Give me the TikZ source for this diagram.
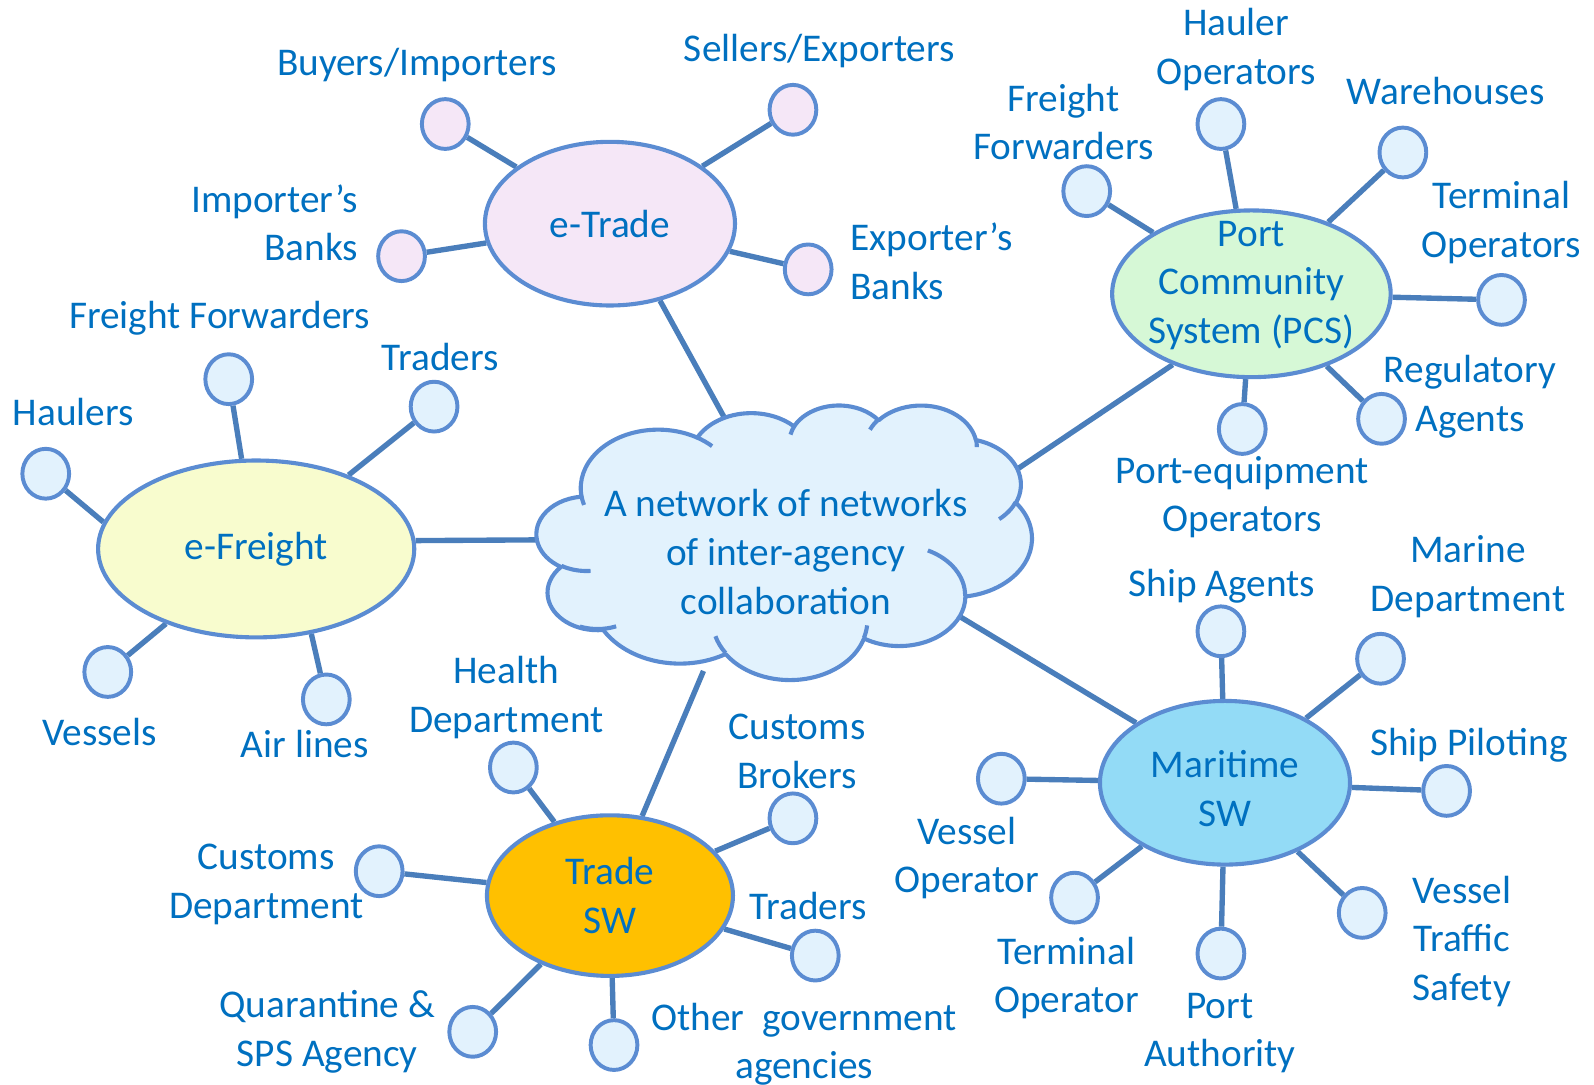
\documentclass[tikz,border=0pt]{standalone}
\usepackage{fontspec}
\setmainfont{Carlito}
\usepackage{xcolor}
\usepackage{tikz}
\usetikzlibrary{shapes.geometric,backgrounds}

\definecolor{txtblue}{HTML}{0070C0}
\definecolor{lineblue}{HTML}{5B8CD2}
\definecolor{linkblue}{HTML}{4A7EBB}
\definecolor{leaffill}{HTML}{E2F2FD}
\definecolor{etradefill}{HTML}{F5E7F7}
\definecolor{efreightfill}{HTML}{F8FCCE}
\definecolor{pcsfill}{HTML}{D6F8D6}
\definecolor{tswfill}{HTML}{FFC000}
\definecolor{mswfill}{HTML}{93DBF6}

% one puff of the cloud: x radius, y radius, start and sweep (angles along the ray)
\newcommand\cldarc[4]{arc[start angle={atan2(sin(#3)/#2,cos(#3)/#1)}, delta angle={mod(atan2(sin(#3+#4)/#2,cos(#3+#4)/#1)-atan2(sin(#3)/#2,cos(#3)/#1)+720,360)}, x radius=#1, y radius=#2]}

\tikzset{
	txt/.style={font=\fontsize{11}{13.6}\selectfont, text=txtblue},
	hub/.style={ellipse, draw=lineblue, line width=1.15pt, inner sep=0pt, align=center, txt},
	leaf/.style={ellipse, draw=lineblue, line width=1.1pt, fill=leaffill, minimum width=4.6mm, minimum height=4.9mm, inner sep=0pt},
	lbl/.style={align=center, inner sep=0pt, txt},
	link/.style={draw=linkblue, line width=1.5pt},
	cloudline/.style={draw=lineblue, line width=1.15pt, line join=round},
}

\begin{document}
\begin{tikzpicture}[x=0.1mm, y=-0.1mm]
	\useasboundingbox (0,0) rectangle (1568,1067);

	% centre cloud
	\begin{scope}[shift={(528,398)}, x=1.1273mm, y=-0.625mm]
		\draw[cloudline, fill=leaffill] (3.900,14.370)
			\cldarc{6.753}{9.190}{-190.4875}{123.7805}
			\cldarc{5.333}{7.267}{-144.1024}{89.9452}
			\cldarc{4.365}{5.945}{-145.8079}{99.7230}
			\cldarc{4.857}{6.595}{-130.9861}{117.2417}
			\cldarc{5.333}{7.273}{-78.7089}{109.0269}
			\cldarc{6.775}{9.220}{-46.2673}{130.2690}
			\cldarc{5.785}{7.867}{0.6250}{114.0333}
			\cldarc{6.752}{9.215}{22.4516}{115.1726}
			\cldarc{7.720}{10.543}{66.2426}{75.7110}
			\cldarc{4.360}{5.918}{-274.9421}{146.7356}
			\cldarc{4.345}{5.945}{-246.8285}{152.5189} -- cycle;
		\draw[cloudline]
			(4.693,26.177) \cldarc{4.345}{5.945}{86.7420}{26.4295}
			(6.928,34.899) \cldarc{4.360}{5.918}{73.6105}{31.9908}
			(16.478,39.090) \cldarc{6.752}{9.215}{137.6242}{21.4261}
			(28.827,34.751) \cldarc{6.752}{9.215}{6.4533}{15.9992}
			(34.129,22.954) \cldarc{5.785}{7.867}{-70.2924}{70.9174}
			(41.798,15.354) \cldarc{5.333}{7.273}{30.3180}{27.7515}
			(38.324,5.426) \cldarc{4.857}{6.595}{-13.7443}{14.8589}
			(29.078,3.952) \cldarc{4.857}{6.595}{-149.1815}{18.1954}
			(22.141,4.720) \cldarc{4.365}{5.945}{-163.4943}{17.6864}
			(14.000,5.192) \cldarc{6.753}{9.190}{-66.7070}{12.3194}
			(4.127,15.789) \cldarc{6.753}{9.190}{157.6544}{11.8582};
	\end{scope}
	\node[lbl] (cloudtxt) at (773,543) {A network of networks\\of inter-agency\\collaboration};
	\coordinate (cN) at (722,428);
	\coordinate (cW) at (540,531);
	\coordinate (cNE) at (985,472);
	\coordinate (cSE) at (935,601);
	\coordinate (cS) at (692,660);

	% hubs
	\node[hub, fill=etradefill, minimum width=24.6mm, minimum height=16.1mm] (etrade) at (600,220) {e-Trade};
	\node[hub, fill=efreightfill, minimum width=31.1mm, minimum height=17.4mm] (efreight) at (252,540) {e-Freight};
	\node[hub, fill=pcsfill, minimum width=27.4mm, minimum height=16.4mm, inner xsep=-1.5mm, inner ysep=-2.5mm] (pcs) at (1231,289) {Port\\Community\\System (PCS)\rule[-6.5pt]{0pt}{0pt}};
	\node[hub, fill=mswfill, minimum width=24.6mm, minimum height=16.1mm] (msw) at (1205,770) {\rule{0pt}{10.8pt}Maritime\\SW};
	\node[hub, fill=tswfill, minimum width=24.2mm, minimum height=15.8mm] (tsw) at (600,881) {Trade\\SW};

	% e-Trade
	\node[leaf, fill=etradefill] (buy) at (438,122) {};
	\node[leaf, fill=etradefill] (sell) at (780,108) {};
	\node[leaf, fill=etradefill] (ibank) at (395,252) {};
	\node[leaf, fill=etradefill] (ebank) at (795,265) {};
	\node[lbl] (buyL) at (410,64) {Buyers/Importers};
	\node[lbl] (sellL) at (806,50) {Sellers/Exporters};
	\node[lbl, align=right, anchor=east] (ibankL) at (353,219) {Importer’s\\Banks};
	\node[lbl, align=left, anchor=west] (ebankL) at (836,257) {Exporter’s\\Banks};

	% e-Freight
	\node[leaf] (haul) at (45,466) {};
	\node[leaf] (ffw) at (225,373) {};
	\node[leaf] (trd1) at (427,400) {};
	\node[leaf] (ves) at (106,661) {};
	\node[leaf] (air) at (321,688) {};
	\node[lbl] (haulL) at (72,405) {Haulers};
	\node[lbl] (ffwL) at (216,313) {Freight Forwarders};
	\node[lbl] (trd1L) at (433,351) {Traders};
	\node[lbl] (vesL) at (98,720) {Vessels};
	\node[lbl] (airL) at (300,732) {Air lines};

	% PCS
	\node[leaf] (pff) at (1069,188) {};
	\node[leaf] (haulop) at (1201,122) {};
	\node[leaf] (ware) at (1380,150) {};
	\node[leaf] (termop) at (1477,295) {};
	\node[leaf] (reg) at (1359,412) {};
	\node[leaf] (peq) at (1222,422) {};
	\node[lbl] (pffL) at (1046,120) {Freight\\Forwarders};
	\node[lbl] (haulopL) at (1216,49) {Hauler\\Operators};
	\node[lbl] (wareL) at (1422,90) {Warehouses};
	\node[lbl] (termopL) at (1477,219) {Terminal\\Operators};
	\node[lbl] (regL) at (1446,390) {Regulatory\\Agents};
	\node[lbl] (peqL) at (1222,489) {Port-equipment\\Operators};

	% Maritime SW
	\node[leaf] (ship) at (1201,621) {};
	\node[leaf] (marine) at (1358,648) {};
	\node[leaf] (pilot) at (1423,778) {};
	\node[leaf] (vts) at (1340,898) {};
	\node[leaf] (pauth) at (1201,938) {};
	\node[leaf] (tmop) at (1057,883) {};
	\node[leaf] (vesop) at (985,766) {};
	\node[lbl] (shipL) at (1202,577) {Ship Agents};
	\node[lbl] (marineL) at (1444,567) {Marine\\Department};
	\node[lbl] (pilotL) at (1445,733) {Ship Piloting};
	\node[lbl] (vtsL) at (1438,926) {Vessel\\Traffic\\Safety};
	\node[lbl] (pauthL) at (1200,1016) {Port\\Authority};
	\node[lbl] (tmopL) at (1049,962) {Terminal\\Operator};
	\node[lbl] (vesopL) at (951,844) {Vessel\\Operator};

	% Trade SW
	\node[leaf] (health) at (505,755) {};
	\node[leaf] (cbrk) at (780,805) {};
	\node[leaf] (trd2) at (802,940) {};
	\node[leaf] (ogov) at (604,1028) {};
	\node[leaf] (quar) at (465,1015) {};
	\node[leaf] (cdep) at (373,857) {};
	\node[lbl] (healthL) at (498,686) {Health\\Department};
	\node[lbl] (cbrkL) at (784,739) {Customs\\Brokers};
	\node[lbl] (trd2L) at (795,891) {Traders};
	\node[lbl] (ogovL) at (791,1027) {Other\ \ government\\agencies};
	\node[lbl] (quarL) at (322,1015) {Quarantine \&\\SPS Agency};
	\node[lbl] (cdepL) at (262,870) {Customs\\Department};

	\begin{scope}[on background layer]
		\draw[link] (cN) -- (etrade.303);
		\draw[link] (cW) -- (efreight.3);
		\draw[link] (cNE) -- (pcs.222);
		\draw[link] (cSE) -- (msw.146);
		\draw[link] (cS) -- (tsw.68);
		\foreach \a in {buy,sell,ibank,ebank} \draw[link] (\a) -- (etrade);
		\draw[link] (haul) -- (efreight.170);
		\draw[link] (air) -- (efreight.303);
		\foreach \a in {ffw,trd1,ves} \draw[link] (\a) -- (efreight);
		\foreach \a in {pff,haulop,ware,termop,reg,peq} \draw[link] (\a) -- (pcs);
		\foreach \a in {ship,marine,pilot,vts,pauth,tmop,vesop} \draw[link] (\a) -- (msw);
		\foreach \a in {health,cbrk,trd2,ogov,quar,cdep} \draw[link] (\a) -- (tsw);
	\end{scope}
\end{tikzpicture}
\end{document}
